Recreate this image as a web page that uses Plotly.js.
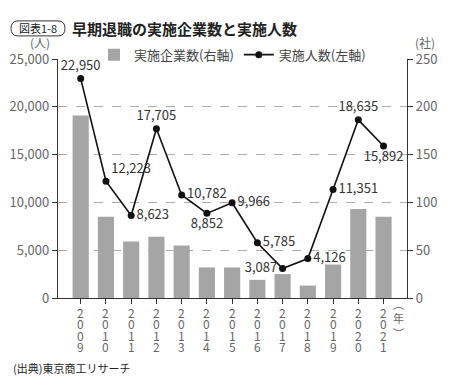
<!DOCTYPE html>
<html><head><meta charset="utf-8">
<script src="https://cdn.plot.ly/plotly-3.0.1.min.js"></script>
<style>html,body{margin:0;padding:0;background:#fff}#chart{width:450px;height:379px}</style>
</head><body><div id="chart"></div>
<script>
const years = ['2009','2010','2011','2012','2013','2014','2015','2016','2017','2018','2019','2020','2021'];
const companies = [191, 85, 59, 64, 55, 32, 32, 19, 25, 13, 35, 93, 85];
const people = [22950, 12223, 8623, 17705, 10782, 8852, 9966, 5785, 3087, 4126, 11351, 18635, 15892];
const labelPos = ['top center','top right','middle right','top center','middle right','bottom center','middle right','middle right','middle left','middle right','middle right','top center','bottom center'];

const F = '"Noto Sans CJK JP", "Noto Sans", sans-serif';
const gray = '#666';

const traces = [
  {type:'bar', x: years, y: companies, name:'実施企業数(右軸)', yaxis:'y',
   marker:{color:'#a5a5a5'}, width:0.64, hoverinfo:'skip'},
  {type:'scatter', mode:'lines+markers+text', x: years, y: people, name:'実施人数(左軸)', yaxis:'y2',
   line:{color:'#111', width:1.6}, marker:{color:'#111', size:7},
   text: people.map(v => v.toLocaleString('en-US')), textposition: labelPos,
   textfont:{family:F, size:13, color:'#333'}, cliponaxis:false}
];

// stacked vertical year digits (tick labels), placed at each category's index
const rowPx = [312, 323.5, 335, 346.5];
const digitAnns = [];
years.forEach((y, k) => {
  y.split('').forEach((d, i) => {
    digitAnns.push({xref:'x', yref:'paper', x:k, y:(298 - rowPx[i]) / 239, xanchor:'center', yanchor:'middle',
      showarrow:false, text:d, height:11, borderpad:0, font:{family:F, size:12, color:gray}});
  });
});

const layout = {
  width:450, height:379,
  margin:{l:58, r:43, t:59, b:81},
  paper_bgcolor:'#fff', plot_bgcolor:'#fff',
  font:{family:F, color:gray, size:13},
  showlegend:true,
  legend:{orientation:'h', x:0.5, xanchor:'center', y:1.018, yanchor:'middle',
          font:{family:F, size:13, color:'#444'}, bgcolor:'rgba(0,0,0,0)', traceorder:'normal'},
  bargap:0.36,
  xaxis:{type:'category', categoryarray: years, range:[-0.9, years.length - 1 + 0.93], autorange:false,
         ticks:'outside', ticklen:5, showticklabels:false,
         tickcolor:'#333', showline:true, linecolor:'#333', linewidth:1.2,
         showgrid:false, zeroline:false},
  yaxis:{side:'right', range:[0,250], dtick:50, ticks:'outside', ticklen:5, tickcolor:'#333',
         showline:true, linecolor:'#333', linewidth:1.2, showgrid:true,
         gridcolor:'#999', griddash:'dash', gridwidth:0.8, zeroline:false,
         tickfont:{family:F, size:13, color:gray}},
  yaxis2:{overlaying:'y', side:'left', range:[0,25000], dtick:5000, tickformat:',',
          ticks:'outside', ticklen:5, tickcolor:'#333', showline:true, linecolor:'#333', linewidth:1.2,
          showgrid:false, zeroline:false, tickfont:{family:F, size:13, color:gray}},
  shapes:[
    {type:'path', xref:'paper', yref:'paper', xsizemode:'pixel', ysizemode:'pixel',
     xanchor:-0.0573, yanchor:1.128,
     path:'M -20,-7.5 L 20,-7.5 Q 27,-7.5 27,0 Q 27,7.5 20,7.5 L -20,7.5 Q -27,7.5 -27,0 Q -27,-7.5 -20,-7.5 Z',
     line:{color:'#333', width:1}, fillcolor:'rgba(0,0,0,0)'}
  ],
  annotations:[
    {xref:'paper', yref:'paper', x:-0.0573, y:1.128, xanchor:'center', yanchor:'middle', showarrow:false,
     text:'図表1-8', font:{family:F, size:11, color:'#222'}},
    {xref:'paper', yref:'paper', x:(70-58)/349, y:1.128, xanchor:'left', yanchor:'middle', showarrow:false,
     text:'<b>早期退職の実施企業数と実施人数</b>', font:{family:F, size:15, color:'#222'}},
    {xref:'paper', yref:'paper', x:-0.052, y:1.068, xanchor:'center', yanchor:'middle', showarrow:false,
     text:'(人)', font:{family:F, size:12, color:gray}},
    {xref:'paper', yref:'paper', x:1.052, y:1.068, xanchor:'center', yanchor:'middle', showarrow:false,
     text:'(社)', font:{family:F, size:12, color:gray}},
    {xref:'paper', yref:'paper', x:(398-58)/349, y:(298-318)/239, xanchor:'center', yanchor:'middle', showarrow:false,
     text:'︵<br>年<br>︶', font:{family:F, size:11, color:gray}},
    {xref:'paper', yref:'paper', x:(11-58)/349, y:(298-368)/239, xanchor:'left', yanchor:'middle', showarrow:false,
     text:'(出典)東京商工リサーチ', font:{family:F, size:11, color:'#222'}}
  ].concat(digitAnns)
};
Plotly.newPlot('chart', traces, layout, {displayModeBar:false, staticPlot:true});
</script></body></html>
